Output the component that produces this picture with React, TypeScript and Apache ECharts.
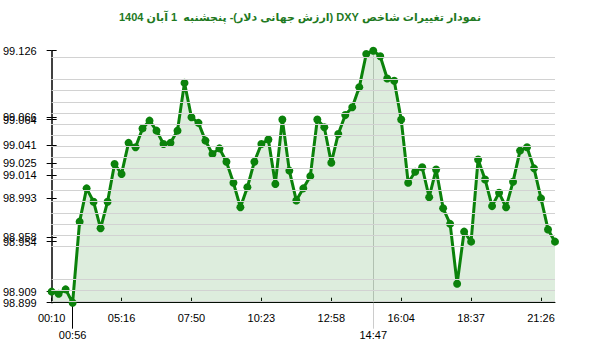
import React, { useEffect, useRef } from "react";
import * as echarts from "echarts";

const title = "\u202Bنمودار تغییرات شاخص DXY (ارزش جهانی دلار)- پنجشنبه  1 آبان 1404\u202C";

const categories = [
  "00:10", "00:25", "00:41", "00:56", "03:46", "04:01", "04:16", "04:31", "04:46", "05:01",
  "05:16", "05:31", "05:47", "06:02", "06:17", "06:33", "06:48", "07:04", "07:19", "07:34",
  "07:50", "08:05", "08:20", "08:36", "08:51", "09:06", "09:22", "09:37", "09:52", "10:08",
  "10:23", "10:38", "10:54", "11:09", "11:25", "11:40", "11:56", "12:11", "12:27", "12:42",
  "12:58", "13:16", "13:34", "13:52", "14:11", "14:29", "14:47", "15:06", "15:26", "15:45",
  "16:04", "16:19", "16:35", "16:50", "17:05", "17:21", "17:36", "17:51", "18:07", "18:22",
  "18:37", "18:54", "19:11", "19:28", "19:45", "20:02", "20:18", "20:35", "20:52", "21:09",
  "21:26", "21:43", "22:00",
];

const values = [
  98.909, 98.907, 98.911, 98.899, 98.972, 99.002, 98.990, 98.966, 98.990, 99.024,
  99.015, 99.043, 99.039, 99.056, 99.063, 99.054, 99.042, 99.043, 99.054, 99.097,
  99.066, 99.061, 99.045, 99.033, 99.038, 99.026, 99.007, 98.985, 99.003, 99.026,
  99.042, 99.046, 99.006, 99.064, 99.018, 98.991, 99.002, 99.013, 99.064, 99.057,
  99.025, 99.051, 99.068, 99.075, 99.093, 99.123, 99.126, 99.121, 99.101, 99.099,
  99.064, 99.007, 99.017, 99.021, 98.994, 99.019, 98.984, 98.970, 98.916, 98.963,
  98.954, 99.028, 99.010, 98.986, 98.998, 98.985, 99.008, 99.036, 99.039, 99.020,
  98.993, 98.965, 98.954,
];

const yTickLabels = [99.126, 99.066, 99.064, 99.041, 99.025, 99.014, 98.993, 98.958, 98.954, 98.909, 98.899];
const xTickLabels = ["00:10", "05:16", "07:50", "10:23", "12:58", "16:04", "18:37", "21:26"];
const xLowLabelDark = ["00:56"];
const xLowLabelGrey = ["14:47"];

const yMin = 98.899;
const yMax = 99.126;

const FONT = "Arial";

export default function App() {
  const ref = useRef<HTMLDivElement>(null);
  useEffect(() => {
    if (!ref.current) return;
    const chart = echarts.init(ref.current, undefined, { renderer: "svg" });
    const inList = (list: string[]) => (_i: number, v: string) => list.indexOf(v) >= 0;
    const labelStyle = { color: "#000", fontSize: 11, fontFamily: FONT };
    chart.setOption({
      animation: false,
      backgroundColor: "#fff",
      title: {
        text: title,
        left: "center",
        top: 6,
        textStyle: { color: "#1f7a1f", fontSize: 11, fontWeight: "bold", fontFamily: "Liberation Sans, DejaVu Sans, sans-serif" },
      },
      grid: { left: 50, right: 45, top: 50.7, bottom: 49.3, containLabel: false },
      xAxis: [
        {
          type: "category",
          data: categories,
          boundaryGap: false,
          axisLine: { show: true, lineStyle: { color: "#000", width: 1 } },
          axisTick: { show: true, inside: true, length: 5, interval: inList(xTickLabels), lineStyle: { color: "#000" } },
          axisLabel: { ...labelStyle, interval: inList(xTickLabels), margin: 10 },
          splitLine: { show: false },
        },
        {
          type: "category",
          data: categories,
          boundaryGap: false,
          position: "bottom",
          axisLine: { show: false },
          axisTick: { show: true, length: 26, interval: inList(xLowLabelDark), lineStyle: { color: "#000" } },
          axisLabel: { ...labelStyle, interval: inList(xLowLabelDark), margin: 27 },
          splitLine: { show: false },
        },
        {
          type: "category",
          data: categories,
          boundaryGap: false,
          position: "bottom",
          axisLine: { show: false },
          axisTick: { show: true, length: 26, interval: inList(xLowLabelGrey), lineStyle: { color: "#cccccc" } },
          axisLabel: { ...labelStyle, interval: inList(xLowLabelGrey), margin: 27 },
          splitLine: { show: true, interval: inList(xLowLabelGrey), lineStyle: { color: "#cccccc", width: 1 } },
        },
      ],
      yAxis: [
        {
          type: "value",
          min: yMin,
          max: yMax,
          position: "left",
          axisLine: { show: true, lineStyle: { color: "#000", width: 1.5 } },
          axisTick: { show: true, length: 5, customValues: yTickLabels, lineStyle: { color: "#000" } },
          axisLabel: { ...labelStyle, customValues: yTickLabels, margin: 15, formatter: (v: number) => v.toFixed(3) },
          splitLine: { show: false },
        },
        {
          type: "value",
          min: yMin,
          max: yMax,
          position: "left",
          axisLine: { show: false },
          axisTick: { show: true, inside: true, length: 5, customValues: yTickLabels, lineStyle: { color: "#000" } },
          axisLabel: { show: false },
          splitLine: { show: false },
        },
      ],
      series: [
        {
          type: "line",
          data: values,
          xAxisIndex: 0,
          yAxisIndex: 0,
          z: 1,
          silent: true,
          symbol: "none",
          lineStyle: { opacity: 0 },
          markLine: {
            silent: true,
            symbol: "none",
            label: { show: false },
            lineStyle: { color: "#d2d2d2", width: 1, type: "solid" },
            data: values.map((v) => ({ yAxis: v })),
          },
        },
        {
          type: "line",
          data: values,
          xAxisIndex: 0,
          yAxisIndex: 0,
          z: 3,
          symbol: "circle",
          symbolSize: 8,
          showAllSymbol: true,
          lineStyle: { color: "#0b820b", width: 3 },
          itemStyle: { color: "#0b820b", borderWidth: 0 },
          areaStyle: { color: "rgba(30,140,30,0.22)" },
        },
      ],
    });
    return () => chart.dispose();
  }, []);
  return <div ref={ref} style={{ position: "absolute", left: 0, top: 0, width: 600, height: 352 }} />;
}
